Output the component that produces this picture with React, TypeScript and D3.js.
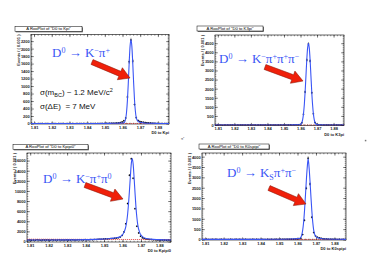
import * as d3 from 'd3';

// bins of 1 MeV between 1.808 and 1.886 GeV
const xDomain: [number, number] = [1.808, 1.886];
const binWidth = 0.001;
const binCenters = d3.range(78).map((i) => 1.8085 + i * binWidth);

// ---- D0 -> K pi
const kpiCounts = [
  14, 10, 12, 9, 13, 11, 15, 10, 12, 13, 9, 11, 14, 12, 10, 13, 11, 12, 15, 10,
  12, 11, 13, 14, 10, 12, 11, 13, 12, 15, 11, 13, 12, 14, 13, 12, 15, 14, 13, 16,
  15, 14, 17, 16, 18, 17, 20, 22, 25, 30, 38, 55, 90, 160, 720, 1660, 2240, 1680,
  520, 170, 95, 70, 55, 45, 38, 32, 28, 24, 20, 18, 16, 15, 14, 13, 12, 13, 12, 11,
];
const kpiFit: [number, number][] = [
  [1.808, 12], [1.83, 13], [1.845, 15], [1.853, 18], [1.857, 22], [1.859, 26],
  [1.8605, 34], [1.861, 60], [1.8615, 140], [1.862, 315], [1.8625, 630],
  [1.863, 1100], [1.8635, 1640], [1.864, 2080], [1.8645, 2250], [1.865, 2080],
  [1.8655, 1640], [1.866, 1110], [1.8665, 650], [1.867, 340], [1.8675, 170],
  [1.868, 100], [1.8685, 72], [1.869, 56], [1.87, 42], [1.872, 28], [1.875, 20],
  [1.88, 15], [1.886, 13],
];
const kpiBkg: [number, number][] = [[1.808, 12], [1.886, 11]];

// ---- D0 -> K 3pi
const k3piCounts = [
  28, 22, 30, 25, 19, 27, 24, 31, 22, 26, 29, 21, 25, 30, 23, 27, 24, 28, 22, 26,
  30, 25, 23, 28, 26, 21, 29, 24, 27, 25, 30, 23, 26, 28, 24, 27, 29, 25, 28, 31,
  27, 30, 29, 33, 31, 35, 34, 38, 36, 40, 45, 60, 150, 620, 1850, 3600, 4490, 3550,
  1800, 640, 160, 65, 45, 38, 33, 30, 28, 27, 25, 26, 24, 27, 23, 25, 26, 22, 24, 25,
];
const k3piFit: [number, number][] = [
  [1.808, 25], [1.84, 27], [1.852, 30], [1.856, 33], [1.8585, 40], [1.8595, 55],
  [1.86, 75], [1.8605, 150], [1.861, 320], [1.8615, 640], [1.862, 1140],
  [1.8625, 1860], [1.863, 2740], [1.8635, 3620], [1.864, 4270], [1.8645, 4510],
  [1.865, 4270], [1.8655, 3620], [1.866, 2740], [1.8665, 1860], [1.867, 1140],
  [1.8675, 640], [1.868, 320], [1.8685, 150], [1.869, 80], [1.8695, 50],
  [1.871, 34], [1.875, 28], [1.886, 25],
];
const k3piBkg: [number, number][] = [[1.808, 24], [1.886, 22]];

// ---- D0 -> K pi pi0
const kpipi0Counts = [
  380, 420, 350, 400, 370, 430, 390, 360, 410, 380, 420, 400, 370, 440, 390, 410,
  380, 430, 400, 420, 390, 440, 410, 380, 450, 420, 400, 440, 460, 430, 410, 470,
  450, 430, 480, 460, 500, 480, 520, 560, 540, 600, 620, 580, 650, 700, 680, 720,
  780, 850, 1000, 1300, 2000, 3600, 7600, 13200, 16450, 12600, 6600, 3100, 1800,
  1150, 820, 680, 580, 540, 500, 470, 450, 430, 410, 420, 390, 400, 380, 370, 390,
  360,
];
const kpipi0Fit: [number, number][] = [
  [1.808, 400], [1.83, 420], [1.84, 470], [1.848, 560], [1.852, 650],
  [1.855, 760], [1.857, 880], [1.8585, 1050], [1.8595, 1350], [1.8605, 1900],
  [1.8615, 3000], [1.862, 4000], [1.8625, 5500], [1.863, 7600], [1.8635, 10200],
  [1.864, 13000], [1.8645, 15500], [1.865, 16500], [1.8655, 15400],
  [1.866, 12800], [1.8665, 9800], [1.867, 7000], [1.8675, 4900], [1.868, 3400],
  [1.869, 1900], [1.87, 1250], [1.871, 920], [1.8725, 700], [1.875, 560],
  [1.879, 470], [1.886, 410],
];
const kpipi0Bkg: [number, number][] = [[1.808, 560], [1.886, 470]];

// ---- D0 -> Ks pi pi
const ksCounts = [
  30, 25, 34, 28, 22, 31, 27, 35, 24, 29, 33, 26, 30, 23, 28, 32, 25, 29, 34, 27,
  31, 24, 29, 33, 26, 30, 28, 35, 25, 31, 29, 27, 33, 30, 26, 32, 29, 34, 28, 31,
  33, 30, 35, 32, 36, 34, 38, 37, 40, 42, 45, 52, 60, 85, 260, 950, 2500, 3950,
  2700, 1100, 360, 190, 135, 105, 82, 65, 52, 46, 40, 37, 34, 33, 31, 30, 32, 29,
  31, 30,
];
const ksFit: [number, number][] = [
  [1.808, 30], [1.84, 32], [1.852, 38], [1.856, 45], [1.8585, 55], [1.86, 65],
  [1.861, 85], [1.8615, 120], [1.862, 230], [1.8625, 450], [1.863, 820],
  [1.8635, 1380], [1.864, 2100], [1.8645, 2850], [1.865, 3500], [1.8655, 3920],
  [1.866, 3500], [1.8665, 2850], [1.867, 2100], [1.8675, 1400], [1.868, 850],
  [1.8685, 480], [1.869, 280], [1.8695, 190], [1.870, 140], [1.871, 95],
  [1.873, 62], [1.876, 45], [1.88, 36], [1.886, 32],
];
const ksBkg: [number, number][] = [[1.808, 30], [1.886, 28]];

const panels = [
  {
    title: 'A RooPlot of "D0 to Kpi"', xTitle: 'D0 to Kpi', yTitle: 'Events / ( 0.001 )',
    counts: kpiCounts, fit: kpiFit, bkg: kpiBkg, yMax: 2390, yStep: 200, yMinor: 5,
    frame: { l: 31, r: 169, t: 34.5, b: 124 }, titleBox: { x: 15, y: 26.5, w: 67, h: 5 },
    arrow: { x1: 92, y1: 62, x2: 130, y2: 78 },
    label: { x: 52, y: 57, size: 13, parts: [['D', ''], ['0', 'sup'], [' \u2192 K', ''], ['\u2212', 'sup'], ['\u03c0', ''], ['+', 'sup']] },
  },
  {
    title: 'A RooPlot of "D0 to K3pi"', xTitle: 'D0 to K3pi', yTitle: 'Events / ( 0.001 )',
    counts: k3piCounts, fit: k3piFit, bkg: k3piBkg, yMax: 4980, yStep: 500, yMinor: 5,
    frame: { l: 215, r: 344, t: 35, b: 125.5 }, titleBox: { x: 197, y: 26, w: 66, h: 5 },
    arrow: { x1: 265, y1: 67, x2: 303, y2: 81 },
    label: { x: 219, y: 63, size: 13, parts: [['D', ''], ['0', 'sup'], [' \u2192 K', ''], ['\u2212', 'sup'], ['\u03c0', ''], ['+', 'sup'], ['\u03c0', ''], ['+', 'sup'], ['\u03c0', ''], ['\u2212', 'sup']] },
  },
  {
    title: 'A RooPlot of "D0 to Kpipi0"', xTitle: 'D0 to Kpipi0', yTitle: 'Events / ( 0.001 )',
    counts: kpipi0Counts, fit: kpipi0Fit, bkg: kpipi0Bkg, yMax: 17600, yStep: 2000, yMinor: 4,
    frame: { l: 27, r: 171, t: 153, b: 242 }, titleBox: { x: 13, y: 144.5, w: 75, h: 5 },
    arrow: { x1: 85, y1: 185, x2: 123, y2: 199 },
    label: { x: 43, y: 183, size: 13, parts: [['D', ''], ['0', 'sup'], [' \u2192 K', ''], ['\u2212', 'sup'], ['\u03c0', ''], ['+', 'sup'], ['\u03c0', ''], ['0', 'sup']] },
  },
  {
    title: 'A RooPlot of "D0 to K0spipi"', xTitle: 'D0 to K0spipi', yTitle: 'Events / ( 0.001 )',
    counts: ksCounts, fit: ksFit, bkg: ksBkg, yMax: 4200, yStep: 500, yMinor: 5,
    frame: { l: 202, r: 346, t: 153, b: 240 }, titleBox: { x: 199, y: 144, w: 70, h: 5 },
    arrow: { x1: 269, y1: 188, x2: 306, y2: 204 },
    label: { x: 227, y: 177, size: 13, parts: [['D', ''], ['0', 'sup'], [' \u2192 K', ''], ['S', 'sub'], ['\u03c0', ''], ['+', 'sup'], ['\u03c0', ''], ['\u2212', 'sup']] },
  },
];

type PanelCfg = (typeof panels)[number];

const blue = '#3a55f5';
const sans = 'Liberation Sans, Arial, sans-serif';
const serif = 'Liberation Serif, Times New Roman, serif';

const Arrow = ({ x1, y1, x2, y2 }: { x1: number; y1: number; x2: number; y2: number }) => {
  const L = Math.hypot(x2 - x1, y2 - y1);
  const ang = (Math.atan2(y2 - y1, x2 - x1) * 180) / Math.PI;
  const hl = 11, hw = 6.5, sw = 2.6;
  const pts = [
    [0, -sw], [L - hl, -sw], [L - hl, -hw], [L, 0], [L - hl, hw], [L - hl, sw], [0, sw],
  ].map((p) => p.join(',')).join(' ');
  return (
    <polygon
      points={pts}
      transform={`translate(${x1},${y1}) rotate(${ang})`}
      fill='#f0200a'
      stroke='#8a1a0a'
      strokeWidth={0.5}
    />
  );
};

const Panel = ({ p, idx }: { p: PanelCfg; idx: number }) => {
  const { l, r, t, b } = p.frame;
  const x = d3.scaleLinear().domain(xDomain).range([l, r]);
  const y = d3.scaleLinear().domain([0, p.yMax]).range([b, t]);
  const line = d3
    .line<[number, number]>()
    .x((d) => x(d[0]))
    .y((d) => y(d[1]))
    .curve(d3.curveMonotoneX);

  const xMajor = d3.range(1.81, 1.8851, 0.01);
  const xMinor = d3.range(1.808, 1.8861, 0.002);
  const yMajor = d3.range(0, p.yMax + 1, p.yStep);
  const yMinor = d3.range(0, p.yMax, p.yStep / p.yMinor);
  const clipId = `clip${idx}`;
  const tb = p.titleBox;

  return (
    <g>
      <defs>
        <clipPath id={clipId}>
          <rect x={l} y={t} width={r - l} height={b - t} />
        </clipPath>
      </defs>
      {/* title box */}
      <rect x={tb.x + 0.8} y={tb.y + 0.8} width={tb.w} height={tb.h} fill='#555' />
      <rect x={tb.x} y={tb.y} width={tb.w} height={tb.h} fill='#fff' stroke='#000' strokeWidth={0.5} />
      <text x={tb.x + tb.w / 2} y={tb.y + tb.h - 1.2} fontSize={4.2} fontFamily={sans} textAnchor='middle'>
        {p.title}
      </text>

      <rect x={l} y={t} width={r - l} height={b - t} fill='#fff' stroke='#000' strokeWidth={0.6} />

      {/* ticks */}
      {xMinor.map((v, i) => (
        <g key={'xm' + i}>
          <line x1={x(v)} x2={x(v)} y1={b} y2={b - 1.3} stroke='#000' strokeWidth={0.4} />
          <line x1={x(v)} x2={x(v)} y1={t} y2={t + 1.3} stroke='#000' strokeWidth={0.4} />
        </g>
      ))}
      {xMajor.map((v, i) => (
        <g key={'xM' + i}>
          <line x1={x(v)} x2={x(v)} y1={b} y2={b - 2.6} stroke='#000' strokeWidth={0.5} />
          <line x1={x(v)} x2={x(v)} y1={t} y2={t + 2.6} stroke='#000' strokeWidth={0.5} />
          <text x={x(v)} y={b + 4.8} fontSize={4} fontFamily={sans} textAnchor='middle' fontWeight='bold' fill='#222'>
            {v.toFixed(2)}
          </text>
        </g>
      ))}
      {yMinor.map((v, i) => (
        <g key={'ym' + i}>
          <line x1={l} x2={l + 1.3} y1={y(v)} y2={y(v)} stroke='#000' strokeWidth={0.4} />
          <line x1={r} x2={r - 1.3} y1={y(v)} y2={y(v)} stroke='#000' strokeWidth={0.4} />
        </g>
      ))}
      {yMajor.map((v, i) => (
        <g key={'yM' + i}>
          <line x1={l} x2={l + 2.8} y1={y(v)} y2={y(v)} stroke='#000' strokeWidth={0.5} />
          <line x1={r} x2={r - 2.8} y1={y(v)} y2={y(v)} stroke='#000' strokeWidth={0.5} />
          <text x={l - 1.2} y={y(v) + 1.4} fontSize={4} fontFamily={sans} textAnchor='end' fontWeight='bold' fill='#222'>
            {v}
          </text>
        </g>
      ))}

      <text x={r} y={b + 10} fontSize={4} fontFamily={sans} textAnchor='end' fontWeight='bold' fill='#222'>
        {p.xTitle}
      </text>
      <text
        transform={`translate(${l - 11},${t}) rotate(-90)`}
        fontSize={4}
        fontFamily={sans}
        textAnchor='end'
        fontWeight='bold'
        fill='#222'
      >
        {p.yTitle}
      </text>

      <g clipPath={`url(#${clipId})`}>
        {/* data points */}
        {p.counts.map((c, i) => {
          const cx = x(binCenters[i]);
          const e = Math.sqrt(c);
          return (
            <g key={'p' + i}>
              <line x1={x(binCenters[i] - binWidth / 2)} x2={x(binCenters[i] + binWidth / 2)} y1={y(c)} y2={y(c)} stroke='#000' strokeWidth={0.4} />
              <line x1={cx} x2={cx} y1={y(c - e) + 0.6} y2={y(c + e) - 0.6} stroke='#000' strokeWidth={0.4} />
              <circle cx={cx} cy={y(c)} r={0.75} fill='#000' />
            </g>
          );
        })}
        <path d={line(p.bkg) || ''} fill='none' stroke='#e02020' strokeWidth={0.7} strokeDasharray='1.2,0.8' />
        <path d={line(p.fit) || ''} fill='none' stroke={blue} strokeWidth={1.1} />
      </g>

      <text x={p.label.x} y={p.label.y} fontSize={p.label.size} fontFamily={serif} fill={blue}>
        {p.label.parts.map((pt, i) => {
          const prev = i > 0 ? p.label.parts[i - 1][1] : '';
          const shiftIn = pt[1] === 'sup' ? -4.5 : pt[1] === 'sub' ? 2.5 : 0;
          const shiftOut = prev === 'sup' ? 4.5 : prev === 'sub' ? -2.5 : 0;
          return (
            <tspan key={i} dy={shiftIn + shiftOut} fontSize={pt[1] ? p.label.size * 0.62 : p.label.size}>
              {pt[0]}
            </tspan>
          );
        })}
      </text>
      <Arrow {...p.arrow} />
    </g>
  );
};

export default function App() {
  return (
    <div style={{ position: 'fixed', left: 0, top: 0 }}>
      <svg width={374} height={280} style={{ display: 'block', background: '#fff' }}>
        {panels.map((p, i) => (
          <Panel key={i} p={p} idx={i} />
        ))}
        <text x={40} y={95} fontSize={8} fontFamily={sans} fill='#111'>
          σ(m<tspan fontSize={5.5} dy={1.8}>BC</tspan>
          <tspan dy={-1.8}>) ~ 1.2 MeV/c</tspan>
          <tspan fontSize={5.5} dy={-3}>2</tspan>
        </text>
        <text x={40} y={109} fontSize={8} fontFamily={sans} fill='#111' style={{ whiteSpace: 'pre' }}>
          {'σ(ΔE)  = 7 MeV'}
        </text>
        <text x={181} y={140} fontSize={4} fontFamily={serif} fill='#444'>
          π⁺
        </text>
        <rect x={365} y={140} width={1.5} height={1.5} fill='none' stroke='#666' strokeWidth={0.3} />
      </svg>
    </div>
  );
}
